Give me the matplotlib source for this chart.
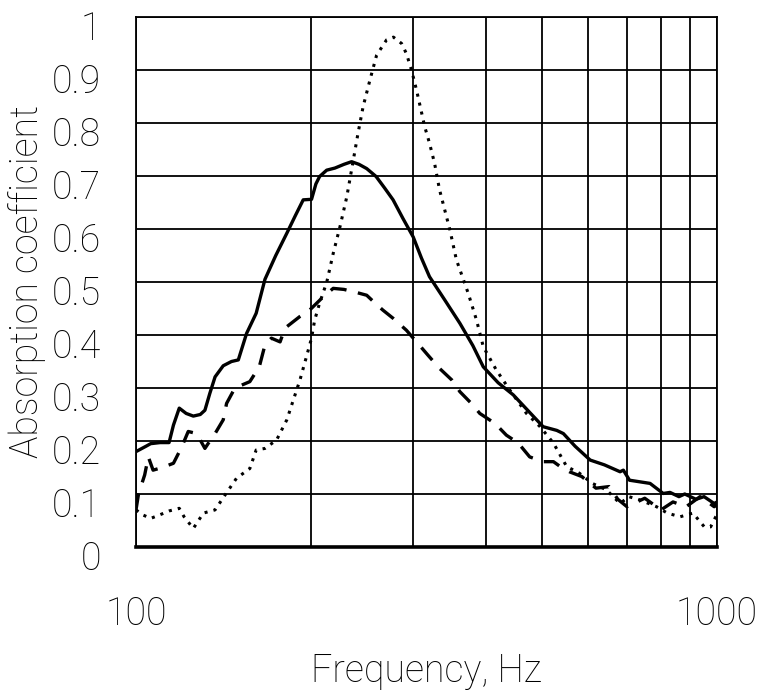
import matplotlib
matplotlib.use("Agg")
import matplotlib.pyplot as plt
from matplotlib.transforms import ScaledTranslation
from matplotlib.ticker import FixedLocator, NullFormatter

# ---- data ----
solid_f = [100, 104, 106, 110, 114, 116, 118.7, 122, 125.5, 129, 131.4, 134, 136.8, 141.3, 146, 150,
           155, 161, 166.7, 174, 181.8, 188, 194, 200.5, 204, 207, 212.9, 220, 228, 235, 242, 249.5,
           259, 268, 277, 288, 300, 310, 320, 340, 361, 380, 396, 420, 446, 475, 502, 530, 544, 570,
           605, 640, 681, 690, 707, 767, 808, 830, 860, 880, 920, 950, 989, 1000]
solid_a = [0.18, 0.19, 0.195, 0.197, 0.197, 0.23, 0.262, 0.252, 0.247, 0.25, 0.258, 0.29, 0.321, 0.342, 0.35, 0.353,
           0.403, 0.441, 0.505, 0.55, 0.592, 0.625, 0.655, 0.656, 0.685, 0.699, 0.711, 0.715, 0.722, 0.727, 0.722, 0.714,
           0.699, 0.677, 0.655, 0.62, 0.585, 0.545, 0.51, 0.466, 0.422, 0.38, 0.340, 0.31, 0.287, 0.255, 0.227, 0.22, 0.214, 0.19,
           0.164, 0.155, 0.142, 0.145, 0.126, 0.120, 0.101, 0.103, 0.095, 0.10, 0.09, 0.095, 0.082, 0.085]

dashed_f = [100, 101, 103.5, 105, 107, 111, 116, 119.9, 123, 127.2, 131.4, 134, 136.8, 141.3, 143.2, 148,
            157, 163, 166.7, 171, 177, 180.5, 191.5, 199, 210, 218.5, 228, 240, 249.5, 258, 266, 277.4,
            292, 304, 318, 333, 349.7, 361, 380, 390.6, 415, 434, 455, 476, 502, 523, 540, 557, 585,
            619, 652, 675, 700, 751, 801, 840, 885, 935, 989, 1000]
dashed_a = [0.07, 0.10, 0.136, 0.17, 0.145, 0.15, 0.158, 0.189, 0.218, 0.214, 0.186, 0.20, 0.214, 0.24, 0.271, 0.30,
            0.312, 0.34, 0.381, 0.394, 0.387, 0.413, 0.435, 0.447, 0.472, 0.488, 0.486, 0.480, 0.475, 0.46, 0.447, 0.431,
            0.409, 0.387, 0.362, 0.337, 0.315, 0.293, 0.268, 0.252, 0.233, 0.211, 0.196, 0.170, 0.161, 0.161, 0.15, 0.142, 0.133,
            0.111, 0.114, 0.09, 0.076, 0.092, 0.07, 0.085, 0.076, 0.095, 0.076, 0.08]

dotted_f = [100, 103, 106, 109.5, 114, 118.7, 121, 125.5, 130.6, 136.8, 142.3, 149, 157, 161, 166.7, 174.6,
            181.8, 186.5, 191.5, 196.5, 200.5, 203, 207, 213, 218.5, 224.4, 230.6, 236.6, 241, 246, 252.7,
            259.5, 270, 277.4, 286.5, 292, 298, 304, 314, 320, 326.5, 333, 347, 356, 373, 385.6, 396, 417,
            440, 470, 496, 523, 551, 580, 610, 645, 681, 705, 736, 787, 821, 864, 909, 951, 975, 995, 1000]
dotted_a = [0.07, 0.06, 0.054, 0.06, 0.068, 0.073, 0.057, 0.035, 0.064, 0.07, 0.098, 0.130, 0.148, 0.183, 0.186, 0.202,
            0.24, 0.277, 0.315, 0.359, 0.394, 0.428, 0.46, 0.50, 0.554, 0.604, 0.661, 0.730, 0.78, 0.831, 0.881,
            0.928, 0.957, 0.962, 0.950, 0.931, 0.90, 0.862, 0.793, 0.762, 0.724, 0.674, 0.598, 0.542, 0.479, 0.428, 0.378, 0.334,
            0.296, 0.252, 0.227, 0.196, 0.152, 0.139, 0.120, 0.108, 0.082, 0.095, 0.089, 0.076, 0.064, 0.057, 0.064, 0.038, 0.038, 0.057, 0.06]

x_grid = [100, 200, 300, 400, 500, 600, 700, 800, 900, 1000]
x_labels = ["100", "1000"]
y_ticks = [0, 0.1, 0.2, 0.3, 0.4, 0.5, 0.6, 0.7, 0.8, 0.9, 1.0]
y_labels = ["0", "0.1", "0.2", "0.3", "0.4", "0.5", "0.6", "0.7", "0.8", "0.9", "1"]

FONT = dict(family=["Roboto", "DejaVu Sans"], weight="light", size=27)

fig = plt.figure(figsize=(7.6, 6.93), dpi=100)
ax = fig.add_axes([136/760, 1-547/693, (717-136)/760, (547-17)/693])
ax.set_xscale("log")
ax.set_xlim(100, 1000)
ax.set_ylim(0, 1)

ax.plot(solid_f, solid_a, color="black", lw=2.4, solid_capstyle="butt")
ax.plot(dashed_f, dashed_a, color="black", lw=2.4, linestyle=(0, (5, 3.5)), dash_capstyle="butt")
ax.plot(dotted_f, dotted_a, color="black", lw=2.2, linestyle=(0, (1, 2)), dash_capstyle="butt")

ax.xaxis.set_major_locator(FixedLocator([100, 1000]))
ax.xaxis.set_minor_locator(FixedLocator(x_grid))
ax.xaxis.set_minor_formatter(NullFormatter())
ax.set_xticklabels(x_labels, fontdict=FONT)
ax.set_yticks(y_ticks)
ax.set_yticklabels(y_labels, fontdict=FONT)
ax.tick_params(axis="both", which="both", length=0)
ax.tick_params(axis="x", pad=35)
ax.tick_params(axis="y", pad=25)
for lab in ax.get_yticklabels():
    lab.set_transform(lab.get_transform() + ScaledTranslation(0, -0.08, fig.dpi_scale_trans))

ax.grid(True, which="both", axis="x", color="black", lw=1.3)
ax.grid(True, which="major", axis="y", color="black", lw=1.3)
ax.set_axisbelow(False)
for side in ["top", "left", "right"]:
    ax.spines[side].set_linewidth(1.3)
ax.spines["bottom"].set_linewidth(2.6)

ax.set_xlabel("Frequency, Hz", fontdict=FONT)
ax.set_ylabel("Absorption coefficient", fontdict=FONT)
ax.xaxis.set_label_coords(0.5, -0.2)
ax.yaxis.set_label_coords(-0.155, 0.5)

fig.savefig("out.png", dpi=100)
